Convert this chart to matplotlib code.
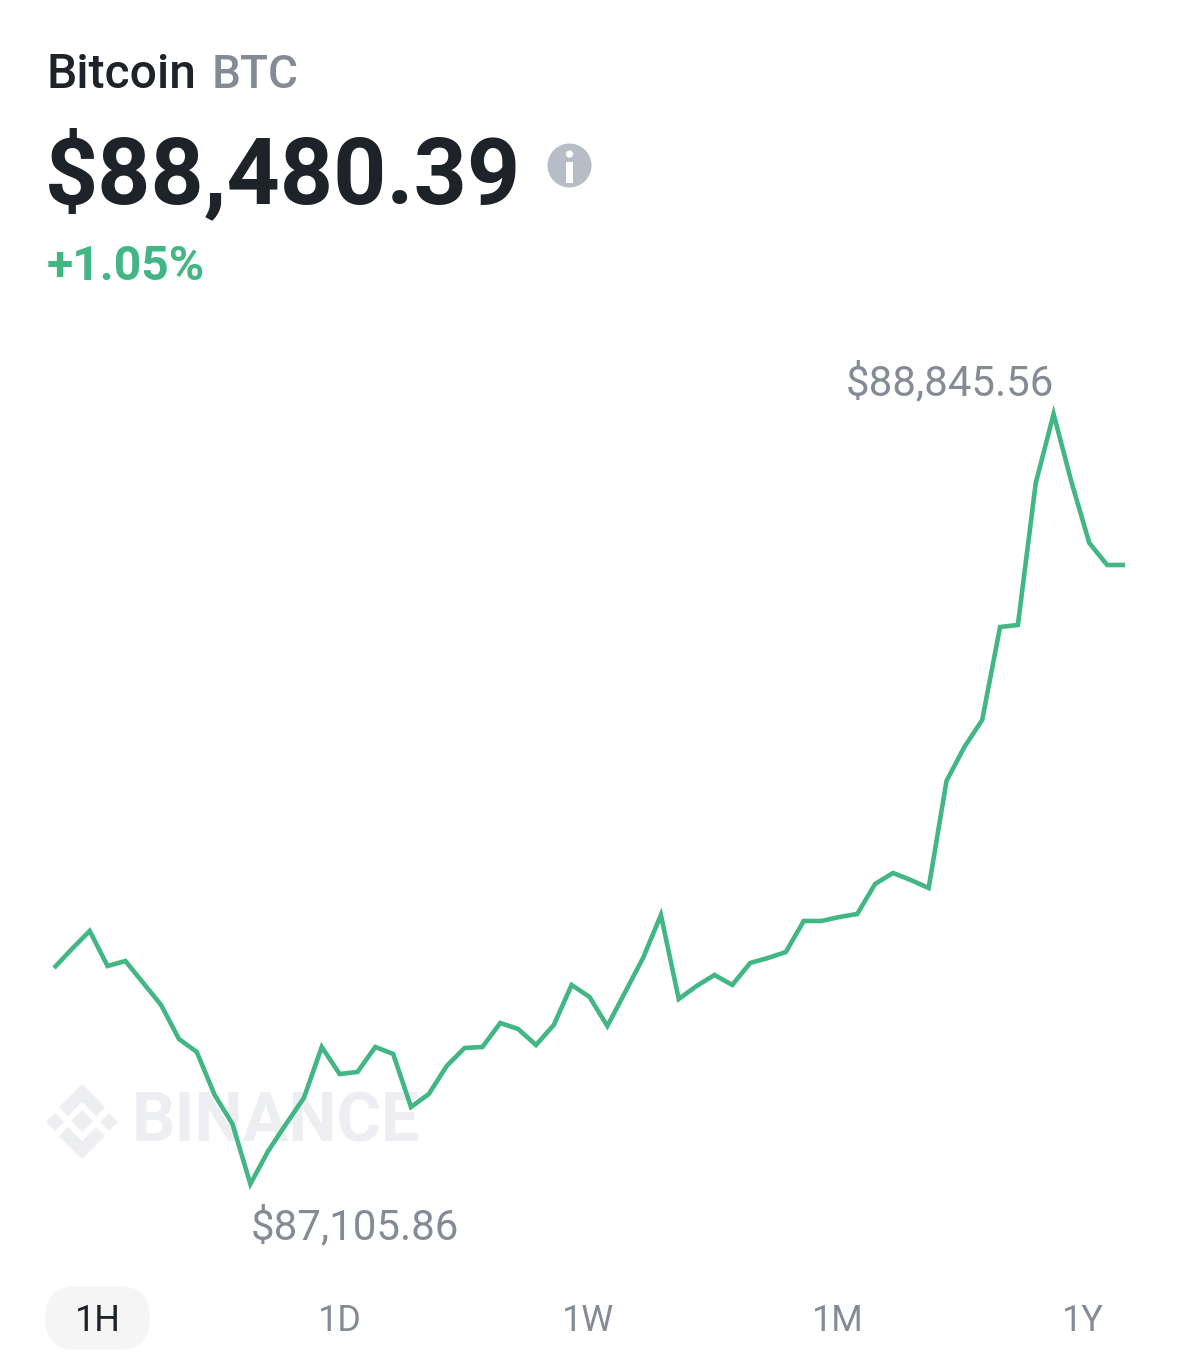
import matplotlib
matplotlib.use("Agg")
import matplotlib.pyplot as plt
from matplotlib.patches import Polygon, FancyBboxPatch, Circle, Rectangle

# ---- data ----
prices = [87593.9, 87636.8, 87677.5, 87598.4, 87609.7, 87560.0, 87510.3, 87433.4, 87404.1, 87306.9,
          87241.4, 87105.86, 87180.4, 87241.4, 87300.2, 87415.4, 87354.4, 87358.9, 87415.4, 87399.6,
          87279.8, 87309.2, 87372.5, 87413.1, 87415.4, 87469.6, 87456.1, 87419.9, 87465.1, 87555.5,
          87528.4, 87462.8, 87539.6, 87616.5, 87713.6, 87523.9, 87553.2, 87578.1, 87555.5, 87605.2,
          87616.5, 87630.0, 87700.1, 87700.1, 87709.1, 87715.9, 87783.7, 87808.5, 87792.7, 87774.6,
          88016.4, 88093.2, 88154.2, 88364.3, 88368.9, 88689.7, 88845.56, 88692.0, 88554.1, 88504.4,
          88504.4]
name = "Bitcoin"
symbol = "BTC"
last_price = "$88,480.39"
change = "+1.05%"
high_label = "$88,845.56"
low_label = "$87,105.86"
ranges = ["1H", "1D", "1W", "1M", "1Y"]
range_centers = [98, 340, 588, 838, 1083]

W, H = 1179, 1370
GREEN = "#42B685"
DARK = "#1E2329"
GREY = "#858B96"
plt.rcParams["font.family"] = ["Roboto", "DejaVu Sans"]

fig = plt.figure(figsize=(W / 100, H / 100), dpi=100, facecolor="white")

# layout overlay in pixel coordinates
ui = fig.add_axes([0, 0, 1, 1])
ui.set_xlim(0, W)
ui.set_ylim(H, 0)
ui.axis("off")

# price chart: full-figure axes, limits chosen so that the line lands in place
PX_PER_STEP = 17.85
USD_PER_PX = 2.2594
ax = fig.add_axes([0, 0, 1, 1], facecolor="none")
ax.set_xlim(-54 / PX_PER_STEP, (W - 54) / PX_PER_STEP)
ax.set_ylim(88845.56 - (H - 414) * USD_PER_PX, 88845.56 + 414 * USD_PER_PX)
ax.axis("off")


def px(size):
    return size * 0.72


# watermark
WM = "#EDEEF1"
def diamond(cx, cy, r):
    ui.add_patch(Polygon([(cx - r, cy), (cx, cy - r), (cx + r, cy), (cx, cy + r)],
                         closed=True, fc=WM, ec="none", zorder=1))

diamond(82, 1121, 11)
diamond(55, 1122, 9)
diamond(109, 1122, 9)
# upper and lower chevrons of the logo
ui.add_patch(Polygon([(82, 1084), (105, 1107), (96, 1116), (82, 1102), (68, 1116), (59, 1107)],
                     closed=True, fc=WM, ec="none", zorder=1))
ui.add_patch(Polygon([(82, 1159), (105, 1136), (96, 1127), (82, 1141), (68, 1127), (59, 1136)],
                     closed=True, fc=WM, ec="none", zorder=1))
ui.text(132, 1142, "BINANCE", fontsize=px(68), fontweight="bold", color=WM,
        va="baseline", ha="left", zorder=1)

# price line
x = list(range(len(prices)))
ax.plot(x, prices, color=GREEN, lw=px(4.6), solid_joinstyle="miter", solid_capstyle="butt", zorder=3)

# header
ui.text(46, 88, name, fontsize=px(48), fontweight="medium", color=DARK, ha="left", va="baseline")
ui.text(212, 88, symbol, fontsize=px(46), fontweight="medium", color=GREY, ha="left", va="baseline")
ui.text(45, 203, last_price, fontsize=px(93), fontweight="bold", color=DARK, ha="left", va="baseline")
ui.text(47, 280, change, fontsize=px(48), fontweight="bold", color=GREEN, ha="left", va="baseline")

# info icon
ui.add_patch(Circle((569.5, 165.5), 22, fc="#B7BDC6", ec="none"))
ui.add_patch(Circle((569.5, 154), 3.6, fc="white", ec="none"))
ui.add_patch(Rectangle((566, 161.5), 7, 21, fc="white", ec="none"))

# extremes
ui.text(846, 395, high_label, fontsize=px(42), color=GREY, ha="left", va="baseline")
ui.text(251, 1239, low_label, fontsize=px(42), color=GREY, ha="left", va="baseline")

# range buttons
ui.add_patch(FancyBboxPatch((45, 1286), 105, 64, boxstyle="round,pad=0,rounding_size=32",
                            fc="#F5F5F5", ec="none", zorder=1))
for i, (lab, c) in enumerate(zip(ranges, range_centers)):
    ui.text(c, 1331, lab, fontsize=px(36), color=DARK if i == 0 else GREY,
            ha="center", va="baseline", zorder=2)

fig.savefig("out.png", dpi=100, facecolor="white")
